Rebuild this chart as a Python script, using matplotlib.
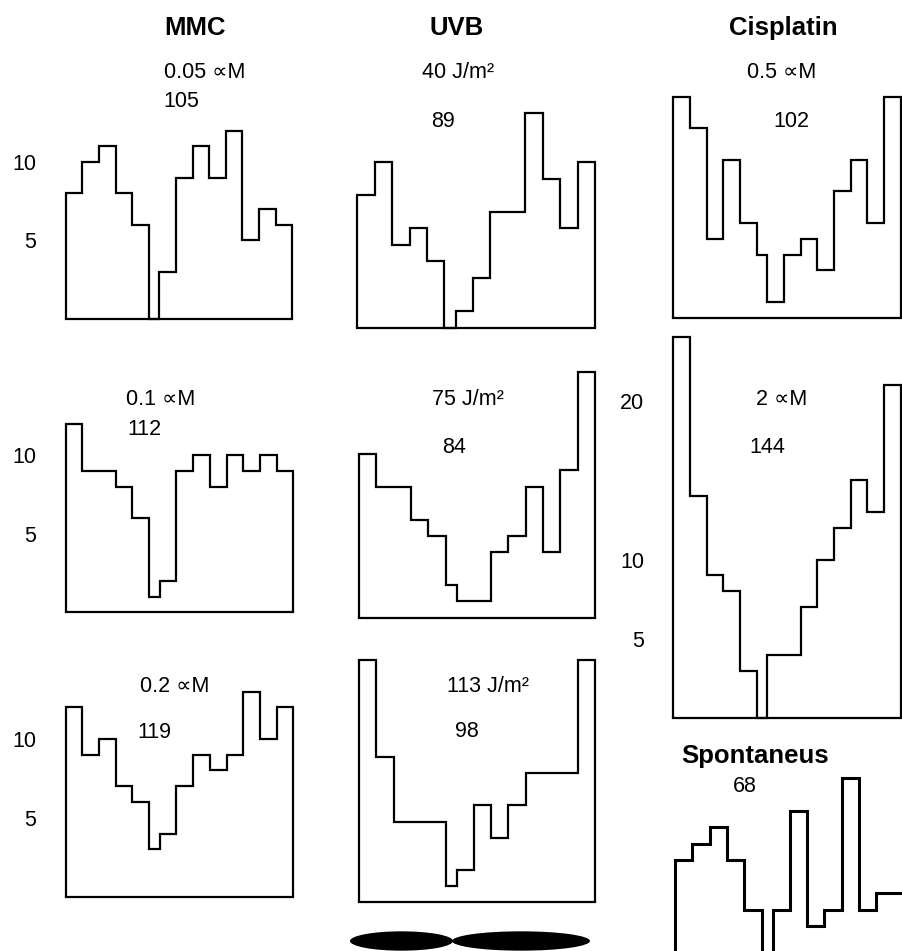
import numpy as np
import matplotlib
matplotlib.use("Agg")
import matplotlib.pyplot as plt
from matplotlib.patches import Ellipse

plt.rcParams['font.family'] = ['Liberation Sans', 'DejaVu Sans']

W, H = 902, 951

# Segment widths along the chromosome: 5 p-arm bins, the centromere, 8 q-arm bins
bin_widths = [1, 1, 1, 1, 1, 0.64, 1, 1, 1, 1, 1, 1, 1, 1]
edges = np.concatenate([[0.0], np.cumsum(bin_widths)])

treatments = ['MMC', 'UVB', 'Cisplatin']

# Break counts per segment
mmc_doses = ['0.05 ∝M', '0.1 ∝M', '0.2 ∝M']
mmc_totals = [105, 112, 119]
mmc_005 = [8, 10, 11, 8, 6, 0, 3, 9, 11, 9, 12, 5, 7, 6]
mmc_01 = [12, 9, 9, 8, 6, 1, 2, 9, 10, 8, 10, 9, 10, 9]
mmc_02 = [12, 9, 10, 7, 6, 3, 4, 7, 9, 8, 9, 13, 10, 12]

uvb_doses = ['40 J/m²', '75 J/m²', '113 J/m²']
uvb_totals = [89, 84, 98]
uvb_40 = [8, 10, 5, 6, 4, 0, 1, 3, 7, 7, 13, 9, 6, 10]
uvb_75 = [10, 8, 8, 6, 5, 2, 1, 1, 4, 5, 8, 4, 9, 15]
uvb_113 = [15, 9, 5, 5, 5, 1, 2, 6, 4, 6, 8, 8, 8, 15]

cis_doses = ['0.5 ∝M', '2 ∝M']
cis_totals = [102, 144]
cis_05 = [14, 12, 5, 10, 6, 4, 1, 4, 5, 3, 8, 10, 6, 14]
cis_2 = [24, 14, 9, 8, 3, 0, 4, 4, 7, 10, 12, 15, 13, 21]

spont_title = 'Spontaneus'
spont_total = 68
spont = [6, 7, 8, 6, 3, 0, 3, 9, 2, 3, 11, 3, 4, 4]

count_ticks = [5, 10]
count_ticks_cis = [5, 10, 20]

# Chromosome ideogram arms, in segment units
p_arm = (-0.52, 5.43)
q_arm = (5.38, 13.35)

fig = plt.figure(figsize=(W / 100, H / 100), dpi=100)


def fx(x):
    return x / W


def fy(y):
    return 1 - y / H


def panel(values, left, right, base, ppc, lw=1.6, ticks=None):
    """Step outline of counts; left/right/base in pixels, ppc = pixels per count."""
    height = (max(values) + 0.5) * ppc
    ax = fig.add_axes([fx(left), fy(base), (right - left) / W, height / H])
    ax.stairs(values, edges, baseline=0, color='black', lw=lw,
              clip_on=False, joinstyle='miter')
    ax.set_xlim(edges[0], edges[-1])
    ax.set_ylim(0, height / ppc)
    for side in ('top', 'left', 'right'):
        ax.spines[side].set_visible(False)
    ax.spines['bottom'].set_linewidth(lw)
    ax.set_xticks([])
    if ticks:
        ax.set_yticks(ticks)
        ax.set_yticklabels([str(t) for t in ticks])
        ax.tick_params(axis='y', length=0, pad=21, labelsize=15.5)
    else:
        ax.set_yticks([])
    ax.patch.set_visible(False)
    return ax


def label(x, y, s, size=15.5, weight='normal'):
    fig.text(fx(x), fy(y), s, ha='center', va='baseline',
             fontsize=size, fontweight=weight)


# Column headers
for name, x in zip(treatments, [195.5, 456.5, 783]):
    label(x, 35, name, size=18.5, weight='bold')

# MMC column
panel(mmc_005, 65.7, 292.3, 318.7, 15.66, ticks=count_ticks)
panel(mmc_01, 65.7, 293.3, 612.3, 15.69, ticks=count_ticks)
panel(mmc_02, 65.7, 293.3, 896.7, 15.78, ticks=count_ticks)
for dose, total, dxy, txy in zip(mmc_doses, mmc_totals,
                                 [(205, 78.3), (161, 405), (174.2, 691.7)],
                                 [(181.5, 106.7), (144.3, 435), (154.7, 738.3)]):
    label(*dxy, dose)
    label(*txy, str(total))

# UVB column
panel(uvb_40, 357.3, 595, 327.7, 16.55)
panel(uvb_75, 359, 595, 617.7, 16.36)
panel(uvb_113, 359, 595, 902.3, 16.16)
for dose, total, dxy, txy in zip(uvb_doses, uvb_totals,
                                 [(457.5, 78.3), (468.3, 405), (487.5, 691.7)],
                                 [(442.5, 126.7), (454.2, 453.3), (466.7, 736.7)]):
    label(*dxy, dose)
    label(*txy, str(total))

# Cisplatin column
panel(cis_05, 673.3, 900.7, 317.7, 15.8)
panel(cis_2, 673.3, 900.7, 718.3, 15.88, ticks=count_ticks_cis)
for dose, total, dxy, txy in zip(cis_doses, cis_totals,
                                 [(781.5, 78.3), (781.7, 405)],
                                 [(791, 126.7), (767, 453.3)]):
    label(*dxy, dose)
    label(*txy, str(total))

# Spontaneous breaks
panel(spont, 675, 911, 959, 16.5, lw=2.2)
label(754.7, 763.3, spont_title, size=18.5, weight='bold')
label(745.3, 791.7, str(spont_total))

# Chromosome ideogram under the UVB column
ax_id = fig.add_axes([fx(359), fy(952), 236 / W, 22 / H])
ax_id.set_xlim(edges[0], edges[-1])
ax_id.set_ylim(0, 1)
for a, b in (p_arm, q_arm):
    ax_id.add_patch(Ellipse(((a + b) / 2, 0.5), b - a, 0.88,
                            facecolor='black', edgecolor='none', clip_on=False))
ax_id.axis('off')

fig.savefig('out.png', dpi=100)
